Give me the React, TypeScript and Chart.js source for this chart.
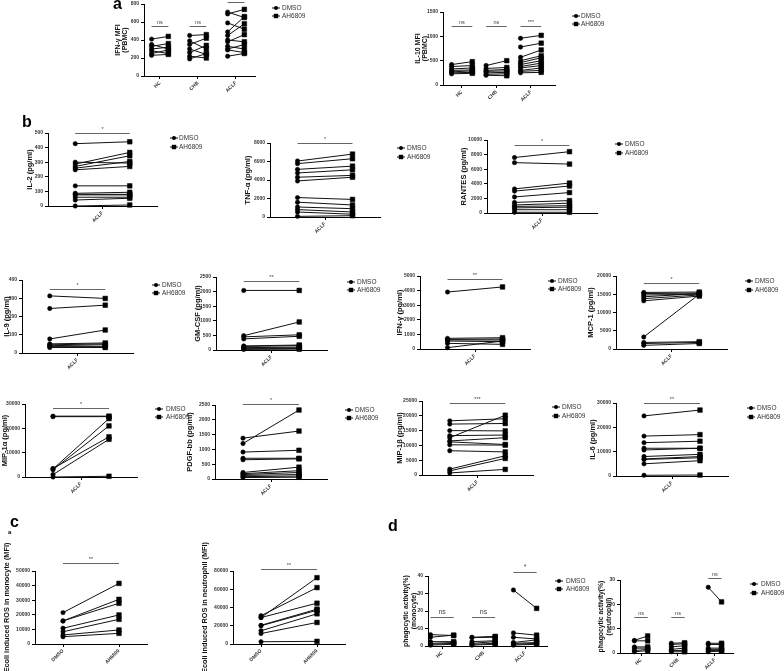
import React, { useEffect, useRef } from "react";
import { Chart, registerables } from "chart.js";
Chart.register(...registerables);

const FONT = "'Liberation Sans', Arial, Helvetica, sans-serif";
const GROUPS = ["HC", "CHB", "ACLF"];
const TREATMENTS = ["DMSO", "AH6809"];

// ---------- a : PBMC MFI ----------
const IFNG_MFI_HC_DMSO = [410, 350, 330, 300, 280, 250, 230];
const IFNG_MFI_HC_AH = [440, 300, 360, 320, 250, 290, 240];
const IFNG_MFI_CHB_DMSO = [450, 390, 350, 300, 260, 220, 190];
const IFNG_MFI_CHB_AH = [460, 300, 420, 240, 340, 200, 250];
const IFNG_MFI_ACLF_DMSO = [710, 690, 590, 490, 450, 400, 380, 330, 300, 290, 220];
const IFNG_MFI_ACLF_AH = [650, 740, 520, 660, 580, 380, 460, 300, 350, 260, 250];

const IL10_MFI_HC_DMSO = [420, 380, 330, 300, 270, 250, 230];
const IL10_MFI_HC_AH = [480, 400, 350, 310, 290, 260, 240];
const IL10_MFI_CHB_DMSO = [400, 340, 300, 280, 250, 220, 200];
const IL10_MFI_CHB_AH = [500, 360, 320, 290, 260, 230, 190];
const IL10_MFI_ACLF_DMSO = [960, 780, 570, 500, 460, 420, 380, 350, 300, 280, 250];
const IL10_MFI_ACLF_AH = [1020, 860, 720, 600, 560, 500, 450, 400, 350, 300, 260];

// ---------- b : cytokines (ACLF) ----------
const IL2_DMSO = [427, 300, 287, 271, 259, 248, 138, 87, 80, 76, 60, 41, 0];
const IL2_AH = [440, 294, 367, 344, 305, 271, 138, 94, 80, 76, 60, 53, 7];
const TNFA_DMSO = [6050, 5770, 5150, 4760, 4300, 3900, 2100, 1600, 1080, 800, 540, 70];
const TNFA_AH = [6800, 6300, 5500, 5100, 4500, 4300, 1900, 1300, 900, 540, 300, 140];
const RANTES_DMSO = [7600, 6900, 3300, 3000, 2200, 1450, 1100, 900, 700, 450, 100];
const RANTES_AH = [8400, 6700, 4100, 3700, 2800, 1700, 1350, 1000, 800, 450, 100];
const IL9_DMSO = [313, 244, 77, 50, 45, 40, 35, 30];
const IL9_AH = [299, 262, 126, 55, 50, 45, 35, 30];
const GMCSF_DMSO = [2040, 490, 450, 380, 140, 120, 80, 60, 40, 20];
const GMCSF_AH = [2040, 960, 520, 470, 170, 150, 100, 70, 50, 30];
const IFNG_DMSO = [3900, 730, 660, 620, 545, 386, 91];
const IFNG_AH = [4250, 773, 682, 614, 500, 318, 550];
const MCP1_DMSO = [15500, 15200, 14800, 14300, 13800, 13200, 3300, 1800, 1500, 1000];
const MCP1_AH = [15600, 15300, 15000, 15200, 14800, 14500, 15000, 2000, 1800, 1500];
const MIP1A_DMSO = [25000, 24800, 3300, 3000, 3500, 1000, 0];
const MIP1A_AH = [25000, 24800, 24000, 21000, 16500, 15500, 300];
const PDGF_DMSO = [1380, 1200, 910, 700, 650, 220, 180, 150, 120, 80, 50];
const PDGF_AH = [1620, 2330, 970, 700, 680, 400, 280, 220, 150, 100, 60];
const MIP1B_DMSO = [18300, 17200, 15000, 12600, 13300, 11500, 11200, 10200, 8200, 2000, 1400, 700];
const MIP1B_AH = [19000, 17400, 14900, 20200, 13500, 12600, 10300, 10100, 7800, 6500, 5600, 1900];
const IL6_DMSO = [24700, 16400, 13700, 11400, 10700, 8000, 7000, 6800, 5000, 300];
const IL6_AH = [27100, 17000, 14300, 11400, 11400, 8900, 8000, 7500, 6300, 400];

// ---------- c : E. coli induced ROS ----------
const ROS_MONO_DMSO = [21500, 15800, 15800, 10800, 8400, 6200, 5000];
const ROS_MONO_AH = [41500, 30600, 27900, 19900, 16900, 9600, 7300];
const ROS_NEUT_DMSO = [29000, 31000, 29000, 20500, 20000, 14500, 11500, 2500];
const ROS_NEUT_AH = [72700, 61800, 44700, 38200, 37000, 33100, 23600, 2900];

// ---------- d : phagocytic activity ----------
const PHAGO_MONO_HC_DMSO = [6.5, 5, 2.5, 1.5, 1, 0.5];
const PHAGO_MONO_HC_AH = [6, 6.2, 2.5, 2, 1.5, 1];
const PHAGO_MONO_CHB_DMSO = [5, 4.8, 2.5, 1.5, 1, 0.5];
const PHAGO_MONO_CHB_AH = [5.5, 5, 3, 2.5, 1.5, 1];
const PHAGO_MONO_ACLF_DMSO = [32, 7.5, 5, 2, 1.5, 1, 0.5];
const PHAGO_MONO_ACLF_AH = [21.5, 6.2, 4, 3.5, 2, 1.5, 1];
const PHAGO_NEUT_HC_DMSO = [5.2, 5, 2.5, 2, 1, 0.5];
const PHAGO_NEUT_HC_AH = [7, 5, 2.5, 2, 1.5, 1];
const PHAGO_NEUT_CHB_DMSO = [4, 3.5, 2.5, 1.5, 1, 0.5];
const PHAGO_NEUT_CHB_AH = [4.2, 3.8, 3, 2, 1, 0.5];
const PHAGO_NEUT_ACLF_DMSO = [27, 4, 3.5, 2, 1.5, 1, 0.5];
const PHAGO_NEUT_ACLF_AH = [21, 4, 3.5, 2, 1.5, 1, 0.8];

type Grp = { label: string; dmso: number[]; ah: number[]; sig: string; sigY: number };
type Cfg = {
  title: string | string[];
  yMax: number;
  yStep: number;
  mode: "3" | "1" | "c";
  groups: Grp[];
  ax: number; ex: number; ty: number; zy: number; tx: number;
  xMin: number; xMax: number; half: number;
  legend?: [number, number, number, number];
  sigSize?: number;
  titleSize?: number;
  padT?: number;
};

const one = (d: number[], a: number[], sig: string, sigY: number): Grp[] => [
  { label: "ACLF", dmso: d, ah: a, sig, sigY },
];

const PANELS: Cfg[] = [
  {
    title: ["IFN-γ MFI", "(PBMC)"], yMax: 800, yStep: 200, mode: "3",
    groups: [
      { label: "HC", dmso: IFNG_MFI_HC_DMSO, ah: IFNG_MFI_HC_AH, sig: "ns", sigY: 555 },
      { label: "CHB", dmso: IFNG_MFI_CHB_DMSO, ah: IFNG_MFI_CHB_AH, sig: "ns", sigY: 555 },
      { label: "ACLF", dmso: IFNG_MFI_ACLF_DMSO, ah: IFNG_MFI_ACLF_AH, sig: "*", sigY: 820 },
    ],
    ax: 144, ex: 255, ty: 4, zy: 76, tx: 118, xMin: -0.42, xMax: 2.5, half: 0.22,
    legend: [272, 282, 8, 16], titleSize: 7,
  },
  {
    title: ["IL-10 MFI", "(PBMC)"], yMax: 1500, yStep: 500, mode: "3",
    groups: [
      { label: "HC", dmso: IL10_MFI_HC_DMSO, ah: IL10_MFI_HC_AH, sig: "ns", sigY: 1220 },
      { label: "CHB", dmso: IL10_MFI_CHB_DMSO, ah: IL10_MFI_CHB_AH, sig: "ns", sigY: 1220 },
      { label: "ACLF", dmso: IL10_MFI_ACLF_DMSO, ah: IL10_MFI_ACLF_AH, sig: "***", sigY: 1220 },
    ],
    ax: 443, ex: 555, ty: 12, zy: 85, tx: 418, xMin: -0.55, xMax: 2.7, half: 0.3,
    legend: [572, 581, 16, 24], titleSize: 7,
  },
  { title: "IL-2 (pg/ml)", yMax: 500, yStep: 100, mode: "1", groups: one(IL2_DMSO, IL2_AH, "*", 500),
    ax: 48, ex: 157, ty: 133, zy: 206, tx: 30, xMin: -0.5, xMax: 1.5, half: 0.5, legend: [170, 179, 138, 147] },
  { title: "TNF-α (pg/ml)", yMax: 8000, yStep: 2000, mode: "1", groups: one(TNFA_DMSO, TNFA_AH, "*", 8000),
    ax: 270, ex: 380, ty: 143, zy: 217, tx: 248, xMin: -0.5, xMax: 1.5, half: 0.5, legend: [397, 407, 148, 157] },
  { title: "RANTES (pg/ml)", yMax: 10000, yStep: 2000, mode: "1", groups: one(RANTES_DMSO, RANTES_AH, "*", 9300),
    ax: 487, ex: 597, ty: 140, zy: 213, tx: 464, xMin: -0.5, xMax: 1.5, half: 0.5, legend: [615, 625, 144, 153] },
  { title: "IL-9 (pg/ml)", yMax: 400, yStep: 100, mode: "1", groups: one(IL9_DMSO, IL9_AH, "*", 350),
    ax: 22, ex: 133, ty: 280, zy: 353, tx: 7, xMin: -0.5, xMax: 1.5, half: 0.5, legend: [152, 162, 285, 293] },
  { title: "GM-CSF (pg/ml)", yMax: 2500, yStep: 500, mode: "1", groups: one(GMCSF_DMSO, GMCSF_AH, "**", 2350),
    ax: 216, ex: 327, ty: 277, zy: 350, tx: 198, xMin: -0.5, xMax: 1.5, half: 0.5, legend: [347, 357, 282, 290] },
  { title: "IFN-γ (pg/ml)", yMax: 5000, yStep: 1000, mode: "1", groups: one(IFNG_DMSO, IFNG_AH, "**", 4800),
    ax: 420, ex: 530, ty: 276, zy: 349, tx: 400, xMin: -0.5, xMax: 1.5, half: 0.5, legend: [548, 558, 281, 289] },
  { title: "MCP-1 (pg/ml)", yMax: 20000, yStep: 5000, mode: "1", groups: one(MCP1_DMSO, MCP1_AH, "*", 18000),
    ax: 616, ex: 727, ty: 276, zy: 349, tx: 591, xMin: -0.5, xMax: 1.5, half: 0.5, legend: [745, 755, 281, 290] },
  { title: "MIP-1α (pg/ml)", yMax: 30000, yStep: 10000, mode: "1", groups: one(MIP1A_DMSO, MIP1A_AH, "*", 28500),
    ax: 25, ex: 137, ty: 404, zy: 477, tx: 5, xMin: -0.5, xMax: 1.5, half: 0.5, legend: [155, 166, 409, 417] },
  { title: "PDGF-bb (pg/ml)", yMax: 2500, yStep: 500, mode: "1", groups: one(PDGF_DMSO, PDGF_AH, "*", 2550),
    ax: 215, ex: 327, ty: 405, zy: 479, tx: 190, xMin: -0.5, xMax: 1.5, half: 0.5, legend: [345, 355, 410, 418] },
  { title: "MIP-1β (pg/ml)", yMax: 25000, yStep: 5000, mode: "1", groups: one(MIP1B_DMSO, MIP1B_AH, "***", 24300),
    ax: 422, ex: 533, ty: 401, zy: 475, tx: 400, xMin: -0.5, xMax: 1.5, half: 0.5, legend: [552, 562, 407, 416] },
  { title: "IL-6 (pg/ml)", yMax: 30000, yStep: 10000, mode: "1", groups: one(IL6_DMSO, IL6_AH, "**", 30000),
    ax: 616, ex: 728, ty: 403, zy: 476, tx: 593, xMin: -0.5, xMax: 1.5, half: 0.5, legend: [747, 757, 408, 417] },
  { title: "Ecoli induced ROS in monocyte (MFI)", yMax: 50000, yStep: 10000, mode: "c",
    groups: one(ROS_MONO_DMSO, ROS_MONO_AH, "**", 55700),
    ax: 35, ex: 147, ty: 571, zy: 644, tx: 7, xMin: -0.5, xMax: 1.5, half: 0.5, titleSize: 7.3, padT: 50 },
  { title: "Ecoli induced ROS in neutrophil (MFI)", yMax: 80000, yStep: 20000, mode: "c",
    groups: one(ROS_NEUT_DMSO, ROS_NEUT_AH, "**", 81900),
    ax: 233, ex: 345, ty: 571, zy: 644, tx: 205, xMin: -0.5, xMax: 1.5, half: 0.5, titleSize: 7.3, padT: 50 },
  {
    title: ["phagocytic activity(%)", "(monocyte)"], yMax: 40, yStep: 10, mode: "3",
    groups: [
      { label: "HC", dmso: PHAGO_MONO_HC_DMSO, ah: PHAGO_MONO_HC_AH, sig: "ns", sigY: 16.5 },
      { label: "CHB", dmso: PHAGO_MONO_CHB_DMSO, ah: PHAGO_MONO_CHB_AH, sig: "ns", sigY: 16.5 },
      { label: "ACLF", dmso: PHAGO_MONO_ACLF_DMSO, ah: PHAGO_MONO_ACLF_AH, sig: "*", sigY: 42.5 },
    ],
    ax: 428, ex: 547, ty: 576, zy: 646, tx: 407, xMin: -0.34, xMax: 2.53, half: 0.28,
    legend: [555, 566, 581, 589], sigSize: 7, titleSize: 6.8,
  },
  {
    title: ["phagocytic activity(%)", "(neutrophil)"], yMax: 30, yStep: 10, mode: "3",
    groups: [
      { label: "HC", dmso: PHAGO_NEUT_HC_DMSO, ah: PHAGO_NEUT_HC_AH, sig: "ns", sigY: 15 },
      { label: "CHB", dmso: PHAGO_NEUT_CHB_DMSO, ah: PHAGO_NEUT_CHB_AH, sig: "ns", sigY: 15 },
      { label: "ACLF", dmso: PHAGO_NEUT_ACLF_DMSO, ah: PHAGO_NEUT_ACLF_AH, sig: "ns", sigY: 31 },
    ],
    ax: 620, ex: 733, ty: 580, zy: 653, tx: 602, xMin: -0.57, xMax: 2.49, half: 0.18,
    legend: [750, 761, 584, 593], titleSize: 6.8,
  },
];

function Panel({ cfg }: { cfg: Cfg }) {
  const ref = useRef<HTMLCanvasElement | null>(null);
  const tSize = cfg.titleSize ?? 7.5;
  const lh = tSize * 1.05;
  const padT = cfg.padT ?? 28, padB = 40, padR = 95;
  const left = Math.round(cfg.tx - lh / 2);
  const top = cfg.ty - padT;
  const yW = cfg.ax - left;
  const W = cfg.ex - left + padR;
  const H = cfg.zy - cfg.ty + padT + padB;

  useEffect(() => {
    const centers = cfg.mode === "3" ? [0, 1, 2] : [0.5];
    const ticks =
      cfg.mode === "3"
        ? GROUPS.map((g, i) => ({ value: i, label: g }))
        : cfg.mode === "1"
        ? [{ value: 0.5, label: "ACLF" }]
        : TREATMENTS.map((t, i) => ({ value: i, label: t }));
    const datasets: any[] = [];
    cfg.groups.forEach((g, gi) => {
      const c = centers[gi];
      g.dmso.forEach((d, k) => {
        datasets.push({
          data: [
            { x: c - cfg.half, y: d },
            { x: c + cfg.half, y: g.ah[k] },
          ],
          borderColor: "#111",
          borderWidth: 1,
          pointStyle: ["circle", "rect"],
          pointRadius: [2.2, 3.3],
          pointBackgroundColor: "#000",
          pointBorderColor: "#000",
          pointBorderWidth: 0.5,
          tension: 0,
          fill: false,
          clip: false,
        });
      });
    });

    const deco = {
      id: "deco",
      afterDraw(chart: any) {
        const ctx = chart.ctx;
        const xs = chart.scales.x, ys = chart.scales.y;
        ctx.save();
        cfg.groups.forEach((g, gi) => {
          const c = centers[gi];
          const x1 = xs.getPixelForValue(c - cfg.half);
          const x2 = xs.getPixelForValue(c + cfg.half);
          const y = Math.round(ys.getPixelForValue(g.sigY)) + 0.5;
          ctx.strokeStyle = "#666";
          ctx.lineWidth = 1;
          ctx.beginPath();
          ctx.moveTo(x1, y);
          ctx.lineTo(x2, y);
          ctx.stroke();
          ctx.fillStyle = "#444";
          ctx.font = `${cfg.sigSize ?? 5.5}px ${FONT}`;
          ctx.textAlign = "center";
          ctx.textBaseline = "bottom";
          ctx.fillText(g.sig, (x1 + x2) / 2, y - 1.5);
        });
        if (cfg.legend) {
          const [sx, tx, r1, r2] = cfg.legend;
          [r1, r2].forEach((ry, i) => {
            const x0 = sx - left, y0 = ry - top;
            ctx.strokeStyle = "#111";
            ctx.lineWidth = 1;
            ctx.beginPath();
            ctx.moveTo(x0, y0);
            ctx.lineTo(x0 + 8, y0);
            ctx.stroke();
            ctx.fillStyle = "#000";
            if (i === 0) {
              ctx.beginPath();
              ctx.arc(x0 + 4, y0, 2, 0, Math.PI * 2);
              ctx.fill();
            } else {
              ctx.fillRect(x0 + 1.8, y0 - 2.2, 4.4, 4.4);
            }
            ctx.fillStyle = "#333";
            ctx.font = `6.5px ${FONT}`;
            ctx.textAlign = "left";
            ctx.textBaseline = "middle";
            ctx.fillText(TREATMENTS[i], tx - left, y0);
          });
        }
        ctx.restore();
      },
    };

    const tickFont = { size: 5, weight: "bold" as const, family: FONT };
    const chart = new Chart(ref.current as HTMLCanvasElement, {
      type: "line",
      data: { datasets },
      options: {
        animation: false,
        responsive: false,
        devicePixelRatio: 1,
        events: [],
        layout: { padding: { top: padT, right: padR, left: 0, bottom: 0 } },
        plugins: { legend: { display: false }, tooltip: { enabled: false }, title: { display: false } },
        scales: {
          x: {
            type: "linear",
            min: cfg.xMin,
            max: cfg.xMax,
            afterBuildTicks: (s: any) => {
              s.ticks = ticks.map((t) => ({ value: t.value }));
            },
            afterFit: (s: any) => {
              s.height = padB;
              s.paddingLeft = 0;
              s.paddingRight = 0;
            },
            ticks: {
              autoSkip: false,
              minRotation: 45,
              maxRotation: 45,
              padding: 1,
              color: "#333",
              font: tickFont,
              callback: (v: any) => {
                const t = ticks.find((tt) => Math.abs(tt.value - Number(v)) < 1e-6);
                return t ? t.label : "";
              },
            },
            grid: { display: true, drawOnChartArea: false, drawTicks: true, tickLength: 3, color: "#000", lineWidth: 1 },
            border: { display: true, color: "#000", width: 1 },
          },
          y: {
            type: "linear",
            min: 0,
            max: cfg.yMax,
            afterFit: (s: any) => {
              s.width = yW;
              s.paddingTop = 0;
              s.paddingBottom = 0;
            },
            ticks: {
              stepSize: cfg.yStep,
              padding: 2,
              color: "#333",
              font: tickFont,
              callback: (v: any) => String(v),
            },
            grid: { display: true, drawOnChartArea: false, drawTicks: true, tickLength: 3, color: "#000", lineWidth: 1 },
            border: { display: true, color: "#000", width: 1 },
            title: {
              display: true,
              text: cfg.title,
              color: "#111",
              padding: 0,
              font: { size: tSize, weight: "bold", family: FONT, lineHeight: 1.05 },
            },
          },
        },
      } as any,
      plugins: [deco],
    });
    return () => chart.destroy();
  }, []);

  return (
    <canvas
      ref={ref}
      width={W}
      height={H}
      style={{ position: "absolute", left, top, width: W, height: H }}
    />
  );
}

const LETTERS = [
  { t: "a", x: 113, y: -4.5, s: 16 },
  { t: "b", x: 22, y: 113.5, s: 16 },
  { t: "c", x: 10, y: 513.5, s: 16 },
  { t: "d", x: 388, y: 517.5, s: 16 },
  { t: "a", x: 8, y: 529, s: 6 },
];

export default function App() {
  return (
    <div
      style={{
        position: "absolute",
        left: 0,
        top: 0,
        width: 784,
        height: 671,
        overflow: "hidden",
        background: "#fff",
      }}
    >
      {PANELS.map((p, i) => (
        <Panel key={i} cfg={p} />
      ))}
      {LETTERS.map((l, i) => (
        <span
          key={"l" + i}
          style={{
            position: "absolute",
            left: l.x,
            top: l.y,
            fontFamily: FONT,
            fontWeight: "bold",
            fontSize: l.s,
            lineHeight: 1,
            color: "#000",
          }}
        >
          {l.t}
        </span>
      ))}
    </div>
  );
}
